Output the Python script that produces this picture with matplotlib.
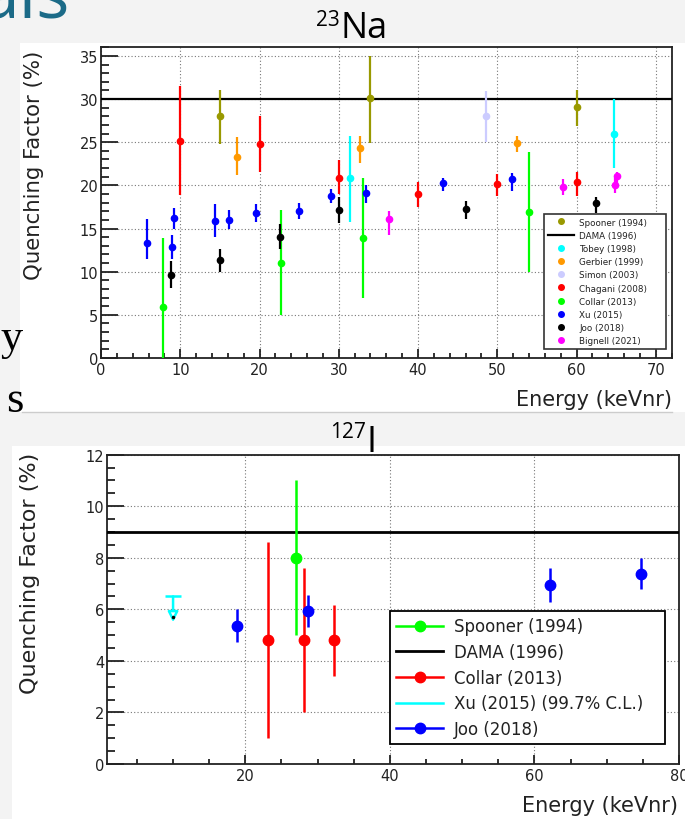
import matplotlib.pyplot as plt
from matplotlib.lines import Line2D
from matplotlib.patches import Rectangle
from matplotlib.ticker import MultipleLocator

W, H = 685, 820

# --- 23Na quenching factor data: energy, value, lower bound, upper bound ---
spooner_na_x = [15.0, 34.0, 60.0]
spooner_na_y = [28.0, 30.1, 29.05]
spooner_na_lo = [24.8, 24.9, 26.9]
spooner_na_hi = [31.1, 35.0, 31.0]

dama_na = 30.0

tobey_x = [31.4, 64.7]
tobey_y = [20.8, 25.9]
tobey_lo = [15.8, 22.0]
tobey_hi = [25.7, 30.0]

gerbier_x = [17.15, 32.7, 52.5]
gerbier_y = [23.3, 24.3, 24.9]
gerbier_lo = [21.2, 22.6, 23.9]
gerbier_hi = [25.6, 25.7, 25.7]

simon_x = [48.55]
simon_y = [28.0]
simon_lo = [25.0]
simon_hi = [30.9]

chagani_x = [10.0, 20.0, 30.0, 40.0, 50.0, 60.0]
chagani_y = [25.2, 24.8, 20.9, 19.0, 20.2, 20.4]
chagani_lo = [18.9, 21.6, 19.0, 17.5, 18.8, 18.8]
chagani_hi = [31.5, 28.0, 22.9, 20.4, 21.3, 21.6]

collar_na_x = [7.8, 22.7, 33.1, 54.0]
collar_na_y = [5.9, 11.0, 13.9, 16.95]
collar_na_lo = [0.0, 5.0, 7.0, 10.0]
collar_na_hi = [13.9, 17.1, 20.9, 23.9]

xu_na_x = [5.8, 8.95, 9.25, 14.4, 16.2, 19.5, 25.0, 29.0, 33.4, 43.1, 51.9]
xu_na_y = [13.3, 12.9, 16.2, 15.9, 16.0, 16.8, 17.0, 18.8, 19.1, 20.3, 20.7]
xu_na_lo = [11.5, 11.5, 14.9, 14.0, 15.0, 15.8, 16.1, 18.0, 18.0, 19.4, 19.3]
xu_na_hi = [16.1, 14.3, 17.4, 17.8, 17.1, 17.8, 18.0, 19.6, 20.1, 20.9, 21.4]

joo_na_x = [8.85, 15.0, 22.6, 30.0, 46.0, 62.4]
joo_na_y = [9.6, 11.3, 14.05, 17.15, 17.3, 18.0]
joo_na_lo = [8.1, 10.0, 12.6, 15.7, 16.1, 16.8]
joo_na_hi = [11.2, 12.6, 15.5, 18.6, 18.2, 18.7]

bignell_x = [36.3, 58.3, 64.85, 65.15]
bignell_y = [16.1, 19.8, 20.1, 21.05]
bignell_lo = [14.2, 18.9, 19.1, 20.0]
bignell_hi = [17.0, 20.7, 20.8, 21.5]

# --- 127I quenching factor data ---
spooner_i_x = [27.0]
spooner_i_y = [8.0]
spooner_i_lo = [5.0]
spooner_i_hi = [11.0]

dama_i = 9.0

collar_i_x = [23.2, 28.1, 32.2]
collar_i_y = [4.8, 4.8, 4.8]
collar_i_lo = [1.0, 2.0, 3.4]
collar_i_hi = [8.6, 7.6, 6.15]

xu_i_x = [10.0]
xu_i_y = [5.7]
xu_i_limit = [6.5]

joo_i_x = [18.8, 28.7, 62.2, 74.7]
joo_i_y = [5.35, 5.93, 6.96, 7.38]
joo_i_lo = [4.75, 5.3, 6.3, 6.8]
joo_i_hi = [6.0, 6.55, 7.6, 8.0]


def fx(px):
    return px / W


def fy(py):
    return 1 - py / H


def err(y, lo, hi):
    return [[v - l for v, l in zip(y, lo)], [h - v for v, h in zip(y, hi)]]


def root_style(ax, xmaj, xmin, ymaj, ymin, ylen, xlen):
    ax.set_facecolor("white")
    ax.xaxis.set_major_locator(MultipleLocator(xmaj))
    ax.xaxis.set_minor_locator(MultipleLocator(xmin))
    ax.yaxis.set_major_locator(MultipleLocator(ymaj))
    ax.yaxis.set_minor_locator(MultipleLocator(ymin))
    ax.tick_params(which="both", direction="in", top=False, right=False,
                   labelsize=10.5, width=1.3, color="#222222", labelcolor="#222222")
    ax.tick_params(axis="y", which="major", length=ylen, pad=2)
    ax.tick_params(axis="y", which="minor", length=ylen / 2)
    ax.tick_params(axis="x", which="major", length=xlen, pad=3)
    ax.tick_params(axis="x", which="minor", length=xlen / 2)
    ax.grid(True, which="major", color="#777777", linestyle=(0, (1, 2)), linewidth=0.8)
    ax.set_axisbelow(True)
    for s in ax.spines.values():
        s.set_linewidth(1.3)
        s.set_color("#222222")


fig = plt.figure(figsize=(W / 100, H / 100), dpi=100)
fig.patch.set_facecolor("#f3f3f3")

# white panels of the two pasted plots
fig.patches.append(Rectangle((fx(20), fy(413)), fx(665), 369 / H,
                             transform=fig.transFigure, facecolor="white", edgecolor="none", zorder=-5))
fig.patches.append(Rectangle((fx(12), fy(820)), fx(673), 373 / H,
                             transform=fig.transFigure, facecolor="white", edgecolor="none", zorder=-5))
fig.add_artist(Line2D([fx(22), fx(672)], [fy(413), fy(413)], color="#cccccc", lw=1.0))

# slide text bits cut by the plots
fig.text(fx(70), fy(17), "als", fontsize=50, color="#1b6a87", ha="right", va="baseline",
         family="Open Sans")
fig.text(fx(23), fy(350), "y", fontsize=32, ha="right", va="baseline", family="Liberation Serif")
fig.text(fx(23), fy(412), "s", fontsize=32, ha="right", va="baseline", family="Liberation Serif")

# ---------------- 23Na ----------------
ax1 = fig.add_axes([fx(101), fy(359), (671.7 - 101) / W, (359 - 48.3) / H])
ax1.set_xlim(0, 72)
ax1.set_ylim(0, 36)
root_style(ax1, 10, 2, 5, 1, 12, 6.5)

ax1.axhline(dama_na, color="black", lw=1.6, zorder=3)
na_sets = [
    (spooner_na_x, spooner_na_y, spooner_na_lo, spooner_na_hi, "#999900"),
    (tobey_x, tobey_y, tobey_lo, tobey_hi, "#00ffff"),
    (gerbier_x, gerbier_y, gerbier_lo, gerbier_hi, "#ff9900"),
    (simon_x, simon_y, simon_lo, simon_hi, "#ccccff"),
    (chagani_x, chagani_y, chagani_lo, chagani_hi, "#ff0000"),
    (collar_na_x, collar_na_y, collar_na_lo, collar_na_hi, "#00ff00"),
    (xu_na_x, xu_na_y, xu_na_lo, xu_na_hi, "#0000ff"),
    (joo_na_x, joo_na_y, joo_na_lo, joo_na_hi, "#000000"),
    (bignell_x, bignell_y, bignell_lo, bignell_hi, "#ff00ff"),
]
for xs, ys, lo, hi, c in na_sets:
    ax1.errorbar(xs, ys, yerr=err(ys, lo, hi), fmt="o", color=c, ms=4.5,
                 elinewidth=1.6, capsize=0, zorder=4)

na_names = ["Spooner (1994)", "DAMA (1996)", "Tobey (1998)", "Gerbier (1999)", "Simon (2003)",
            "Chagani (2008)", "Collar (2013)", "Xu (2015)", "Joo (2018)", "Bignell (2021)"]
na_colors = ["#999900", "black", "#00ffff", "#ff9900", "#ccccff",
             "#ff0000", "#00ff00", "#0000ff", "#000000", "#ff00ff"]
handles = []
for name, c in zip(na_names, na_colors):
    if name.startswith("DAMA"):
        handles.append(Line2D([], [], color=c, lw=1.6))
    else:
        handles.append(Line2D([], [], color=c, marker="o", ms=4, lw=0))
leg1 = ax1.legend(handles, na_names, loc="upper left",
                  bbox_to_anchor=(fx(544), fy(215), (666 - 544) / W, 0.0), mode="expand",
                  bbox_transform=fig.transFigure, fontsize=6.3, frameon=True, fancybox=False,
                  edgecolor="#333333", framealpha=1, labelspacing=0.48, handlelength=3.0,
                  handletextpad=0.6, borderpad=0.4, borderaxespad=0)
leg1.get_frame().set_linewidth(1.2)
for t in leg1.get_texts():
    t.set_color("#222222")

fig.text(fx(672), fy(400), "Energy (keVnr)", fontsize=15, ha="right", va="center", color="#222222")
fig.text(fx(34), fy(165), "Quenching Factor (%)", fontsize=15.3, rotation=90, ha="center",
         va="center", color="#222222")
fig.text(fx(340), fy(20), "23", fontsize=15, ha="right", va="center", family="Open Sans")
fig.text(fx(340), fy(38), "Na", fontsize=26, ha="left", va="baseline", family="Open Sans")

# ---------------- 127I ----------------
ax2 = fig.add_axes([fx(107.3), fy(765), (679 - 107.3) / W, (765 - 455.7) / H])
ax2.set_xlim(0.9, 80)
ax2.set_ylim(0, 12)
root_style(ax2, 20, 5, 2, 0.5, 12, 6.5)

ax2.axhline(dama_i, color="black", lw=2.0, zorder=3)
ax2.errorbar(spooner_i_x, spooner_i_y, yerr=err(spooner_i_y, spooner_i_lo, spooner_i_hi),
             fmt="o", color="#00ff00", ms=7.5, elinewidth=1.8, capsize=0, zorder=4)
ax2.errorbar(collar_i_x, collar_i_y, yerr=err(collar_i_y, collar_i_lo, collar_i_hi),
             fmt="o", color="#ff0000", ms=7.5, elinewidth=1.8, capsize=0, zorder=4)
ax2.errorbar(joo_i_x, joo_i_y, yerr=err(joo_i_y, joo_i_lo, joo_i_hi),
             fmt="o", color="#0000ff", ms=7.5, elinewidth=1.8, capsize=0, zorder=4)
# Xu upper limit
ARROW_LEN = 1.0
for x, lim in zip(xu_i_x, xu_i_limit):
    ax2.plot([x], [lim], marker="_", ms=12, mew=1.8, color="#00ffff", zorder=4)
    ax2.annotate("", xy=(x, lim - ARROW_LEN), xytext=(x, lim),
                 arrowprops=dict(arrowstyle="-|>,head_length=0.6,head_width=0.3",
                                 color="#00ffff", lw=1.8, fc="white", shrinkA=0, shrinkB=0),
                 zorder=4)
ax2.plot(xu_i_x, xu_i_y, "o", ms=1.5, color="black", zorder=5)

i_names = ["Spooner (1994)", "DAMA (1996)", "Collar (2013)", "Xu (2015) (99.7% C.L.)", "Joo (2018)"]
i_handles = [
    Line2D([], [], color="#00ff00", marker="o", ms=7.5, lw=1.8),
    Line2D([], [], color="black", lw=2.0),
    Line2D([], [], color="#ff0000", marker="o", ms=7.5, lw=1.8),
    Line2D([], [], color="#00ffff", lw=1.8),
    Line2D([], [], color="#0000ff", marker="o", ms=7.5, lw=1.8),
]
leg2 = ax2.legend(i_handles, i_names, loc="upper left",
                  bbox_to_anchor=(fx(390), fy(612), (665 - 390) / W, 0.0), mode="expand",
                  bbox_transform=fig.transFigure, fontsize=12, frameon=True, fancybox=False,
                  edgecolor="black", framealpha=1, labelspacing=0.46, handlelength=2.8,
                  handletextpad=0.65, borderpad=0.38, borderaxespad=0)
leg2.get_frame().set_linewidth(1.3)
for t in leg2.get_texts():
    t.set_color("#222222")

fig.text(fx(678), fy(806), "Energy (keVnr)", fontsize=15, ha="right", va="center", color="#222222")
fig.text(fx(30), fy(573), "Quenching Factor (%)", fontsize=16, rotation=90, ha="center",
         va="center", color="#222222")
fig.text(fx(366), fy(433), "127", fontsize=15, ha="right", va="center", family="Open Sans")
fig.text(fx(367), fy(452), "I", fontsize=26, ha="left", va="baseline", family="Open Sans")

fig.savefig("out.png", dpi=100)
